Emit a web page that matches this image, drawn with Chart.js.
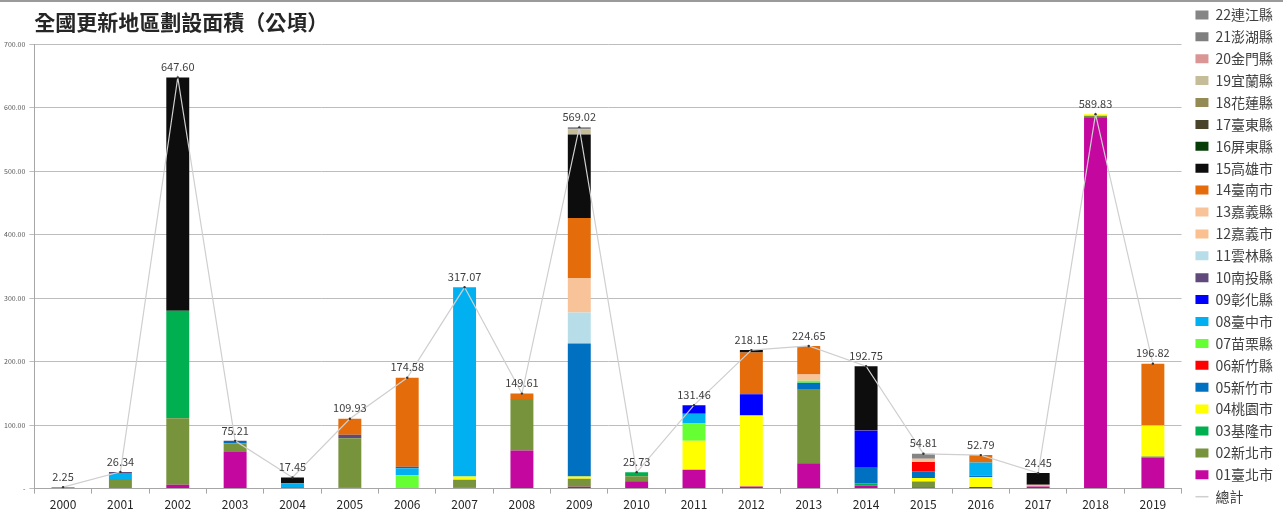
<!DOCTYPE html>
<html>
<head>
<meta charset="utf-8">
<script src="https://cdn.jsdelivr.net/npm/chart.js@4.4.1/dist/chart.umd.min.js"></script>
<style>
  html, body { margin: 0; padding: 0; background: #ffffff; }
  #wrap { width: 1283px; height: 516px; position: relative; }
</style>
</head>
<body>
<div id="wrap"><canvas id="c" width="1283" height="516"></canvas></div>
<script>
const years = ['2000','2001','2002','2003','2004','2005','2006','2007','2008','2009','2010','2011','2012','2013','2014','2015','2016','2017','2018','2019'];

const r01 = [0, 0, 6, 57.5, 0, 1.5, 0, 1.5, 60, 3, 11.5, 29.5, 3.5, 40, 4.5, 2, 2.5, 3.5, 585, 49];
const r02 = [0, 15, 105, 13.5, 0, 78, 0, 12.5, 80, 12.5, 8, 0, 0, 115.7, 0, 9, 0, 0, 2.33, 1.5];
const r03 = [1.5, 0, 169, 0, 0, 0, 0, 0, 0, 0, 6.23, 0, 0, 0, 4, 0, 0, 0, 0, 0];
const r04 = [0, 0, 0, 0, 0, 0, 0, 5, 0, 3.5, 0, 46, 111.8, 0, 0, 5.8, 15.8, 0, 2.5, 49];
const r05 = [0.75, 0, 0, 2.5, 2, 0, 0, 0, 1, 209.5, 0, 0, 0, 11, 24.5, 10.4, 2, 0, 0, 0];
const r06 = [0, 0, 0, 0, 0, 0, 0, 0, 0, 0, 0, 0, 0, 0, 0, 14.8, 0, 0, 0, 0];
const r07 = [0, 0, 0, 0, 0, 0, 21, 0, 0, 0, 0, 27, 0, 3, 0, 0, 0, 0, 0, 0];
const r08 = [0, 9.5, 0, 0, 6.5, 0, 11, 298.07, 0, 0, 0, 15.5, 0, 0, 0, 0, 21, 0, 0, 0];
const r09 = [0, 0, 0, 0, 0, 0, 0, 0, 0, 0, 0, 13.46, 33.5, 0, 58, 0, 0, 0, 0, 0];
const r10 = [0, 1.84, 0, 1.71, 0, 5.5, 2.5, 0, 0, 0, 0, 0, 0, 0, 1.5, 0, 0, 0, 0, 0];
const r11 = [0, 0, 0, 0, 0, 0, 0, 0, 0, 48.8, 0, 0, 0, 0, 0, 0, 0, 0, 0, 0];
const r12 = [0, 0, 0, 0, 0, 0, 0, 0, 0, 0, 0, 0, 0, 0, 0, 0, 0, 2.5, 0, 0];
const r13 = [0, 0, 0, 0, 0, 0, 0, 0, 0, 54.5, 0, 0, 0, 10, 0, 5.2, 0, 0, 0, 0];
const r14 = [0, 0, 0, 0, 0, 24.93, 140.08, 0, 8.61, 94.5, 0, 0, 65.6, 44.95, 0, 0, 11.49, 0, 0, 97.32];
const r15 = [0, 0, 367.6, 0, 8.95, 0, 0, 0, 0, 131.6, 0, 0, 3.75, 0, 100.25, 0, 0, 18.45, 0, 0];
const r16 = [0, 0, 0, 0, 0, 0, 0, 0, 0, 0, 0, 0, 0, 0, 0, 0, 0, 0, 0, 0];
const r17 = [0, 0, 0, 0, 0, 0, 0, 0, 0, 0, 0, 0, 0, 0, 0, 0, 0, 0, 0, 0];
const r18 = [0, 0, 0, 0, 0, 0, 0, 0, 0, 0, 0, 0, 0, 0, 0, 0, 0, 0, 0, 0];
const r19 = [0, 0, 0, 0, 0, 0, 0, 0, 0, 8, 0, 0, 0, 0, 0, 0, 0, 0, 0, 0];
const r20 = [0, 0, 0, 0, 0, 0, 0, 0, 0, 0, 0, 0, 0, 0, 0, 0, 0, 0, 0, 0];
const r21 = [0, 0, 0, 0, 0, 0, 0, 0, 0, 0, 0, 0, 0, 0, 0, 0, 0, 0, 0, 0];
const r22 = [0, 0, 0, 0, 0, 0, 0, 0, 0, 3.12, 0, 0, 0, 0, 0, 7.61, 0, 0, 0, 0];

const totals = [2.25, 26.34, 647.60, 75.21, 17.45, 109.93, 174.58, 317.07, 149.61, 569.02, 25.73, 131.46, 218.15, 224.65, 192.75, 54.81, 52.79, 24.45, 589.83, 196.82];

const yTicks = [0, 100, 200, 300, 400, 500, 600, 700];

const regionNames = ['01臺北市','02新北市','03基隆市','04桃園市','05新竹市','06新竹縣','07苗栗縣','08臺中市','09彰化縣','10南投縣','11雲林縣','12嘉義市','13嘉義縣','14臺南市','15高雄市','16屏東縣','17臺東縣','18花蓮縣','19宜蘭縣','20金門縣','21澎湖縣','22連江縣'];
const regionData = [r01,r02,r03,r04,r05,r06,r07,r08,r09,r10,r11,r12,r13,r14,r15,r16,r17,r18,r19,r20,r21,r22];
const regionColors = ['#C4089F','#77933C','#00B050','#FFFF00','#0070C0','#FF0000','#66FF33','#00B0F0','#0000FF','#604A7B','#B7DEE8','#FAC090','#F9C39A','#E46C0A','#0D0D0D','#063D06','#494429','#948A54','#C4BD97','#D99694','#7F7F7F','#858585'];
const totalName = '總計';

const FONT = "'Noto Sans CJK TC', 'Noto Sans', sans-serif";

const datasets = regionNames.map((name, i) => ({
  type: 'bar',
  label: name,
  data: regionData[i],
  backgroundColor: regionColors[i],
  borderWidth: 0,
  stack: 'regions',
  categoryPercentage: 1.0,
  barPercentage: 0.4,
  order: 1
}));
datasets.push({
  type: 'line',
  label: totalName,
  data: totals,
  borderColor: '#CFCFCF',
  backgroundColor: '#CFCFCF',
  borderWidth: 1.2,
  pointRadius: 1.2,
  pointBackgroundColor: '#333333',
  pointBorderWidth: 0,
  tension: 0,
  stack: 'total',
  order: 0
});

const LEGEND_GAP = 6;

const legendGap = {
  id: 'legendGap',
  beforeLayout(chart) {
    const lg = chart.legend;
    if (lg && !lg._gapPatched) {
      const orig = lg.fit.bind(lg);
      lg.fit = function () { orig(); this.width += LEGEND_GAP; };
      lg._gapPatched = true;
    }
  },
  afterLayout(chart) {
    const lg = chart.legend;
    if (lg) { lg.left += LEGEND_GAP; }
  }
};

const totalLabels = {
  id: 'totalLabels',
  afterDatasetsDraw(chart) {
    const idx = chart.data.datasets.length - 1;
    const meta = chart.getDatasetMeta(idx);
    const ctx = chart.ctx;
    ctx.save();
    ctx.font = "11px " + FONT;
    ctx.fillStyle = '#404040';
    ctx.textAlign = 'center';
    ctx.textBaseline = 'bottom';
    meta.data.forEach((pt, i) => {
      ctx.fillText(totals[i].toFixed(2), pt.x, pt.y - 5);
    });
    ctx.restore();
  }
};

const legendLine = {
  id: 'legendLine',
  afterDraw(chart) {
    const lg = chart.legend;
    if (!lg || !lg.legendItems) return;
    const i = lg.legendItems.findIndex(it => it.text === totalName);
    if (i < 0) return;
    const hb = lg.legendHitBoxes[i];
    const ctx = chart.ctx;
    ctx.save();
    ctx.strokeStyle = '#CFCFCF';
    ctx.lineWidth = 1.5;
    ctx.beginPath();
    const y = hb.top + hb.height / 2;
    ctx.moveTo(hb.left, y);
    ctx.lineTo(hb.left + 13, y);
    ctx.stroke();
    ctx.restore();
  }
};

const frame = {
  id: 'frame',
  beforeDraw(chart) {
    const ctx = chart.ctx;
    ctx.save();
    ctx.fillStyle = '#ffffff';
    ctx.fillRect(0, 0, chart.width, chart.height);
    ctx.fillStyle = '#9A9A9A';
    ctx.fillRect(0, 0, chart.width, 2);
    ctx.restore();
  }
};

new Chart(document.getElementById('c'), {
  data: { labels: years, datasets },
  plugins: [legendGap, frame, totalLabels, legendLine],
  options: {
    responsive: false,
    animation: false,
    layout: { padding: { left: 0, right: 0, top: 0, bottom: 0 } },
    plugins: {
      tooltip: { enabled: false },
      title: {
        display: true,
        text: '全國更新地區劃設面積（公頃）',
        align: 'start',
        fullSize: false,
        color: '#262626',
        font: { family: FONT, size: 21, weight: 'bold' },
        padding: { top: 9, bottom: 10 }
      },
      legend: {
        position: 'right',
        align: 'start',
        labels: {
          boxWidth: 13,
          boxHeight: 9,
          padding: 7.9,
          color: '#404040',
          font: { family: FONT, size: 14 },
          generateLabels(chart) {
            const items = Chart.defaults.plugins.legend.labels.generateLabels(chart);
            items.forEach(it => {
              if (it.text === totalName) {
                it.fillStyle = 'rgba(0,0,0,0)';
                it.strokeStyle = 'rgba(0,0,0,0)';
                it.lineWidth = 0;
              } else {
                it.lineWidth = 0;
              }
            });
            return items;
          },
          sort(a, b) {
            const ka = a.text === totalName ? 1000 : -a.datasetIndex;
            const kb = b.text === totalName ? 1000 : -b.datasetIndex;
            return ka - kb;
          }
        }
      }
    },
    scales: {
      x: {
        stacked: true,
        grid: {
          display: true,
          drawOnChartArea: false,
          offset: true,
          tickLength: 5,
          color: '#A6A6A6'
        },
        border: { display: true, color: '#A6A6A6' },
        ticks: {
          color: '#262626',
          font: { family: FONT, size: 12 },
          padding: 4,
          maxRotation: 0
        }
      },
      y: {
        stacked: true,
        min: 0,
        max: 700,
        afterBuildTicks(scale) {
          scale.ticks = yTicks.map(v => ({ value: v }));
        },
        grid: {
          color: '#BDBDBD',
          lineWidth: 1,
          tickLength: 5,
          drawTicks: true
        },
        border: { display: true, color: '#A6A6A6' },
        ticks: {
          color: '#595959',
          font: { family: FONT, size: 7 },
          padding: 4,
          callback(v) { return v === 0 ? '-' : Number(v).toFixed(2); }
        }
      }
    }
  }
});
</script>
</body>
</html>
